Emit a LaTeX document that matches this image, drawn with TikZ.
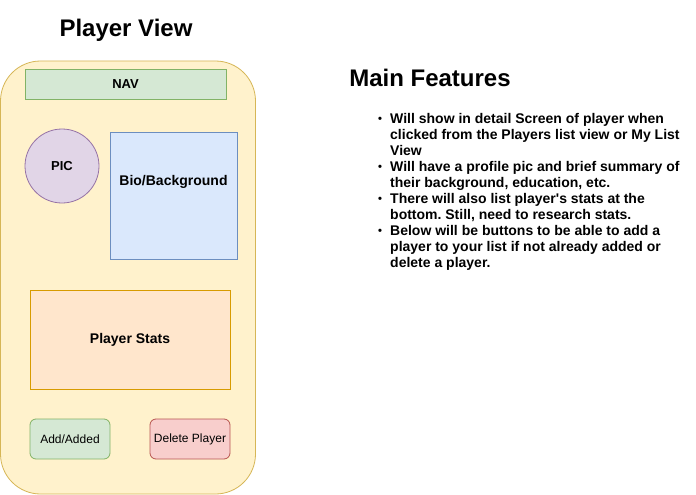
\documentclass[tikz,border=0pt]{standalone}
\usepackage{fontspec}
\setmainfont{Liberation Sans}
\usepackage{xcolor}
\usepackage{tikz}
\usetikzlibrary{shapes,positioning}

\definecolor{phonefill}{HTML}{FFF2CC}
\definecolor{phoneline}{HTML}{D6B656}
\definecolor{navfill}{HTML}{D5E8D4}
\definecolor{navline}{HTML}{82B366}
\definecolor{picfill}{HTML}{E1D5E7}
\definecolor{picline}{HTML}{9673A6}
\definecolor{biofill}{HTML}{DAE8FC}
\definecolor{bioline}{HTML}{6C8EBF}
\definecolor{statfill}{HTML}{FFE6CC}
\definecolor{statline}{HTML}{D79B00}
\definecolor{delfill}{HTML}{F8CECC}
\definecolor{delline}{HTML}{B85450}

\newcommand{\featbullet}{\makebox[13pt][l]{\hspace{1pt}\raisebox{0.5pt}{\scalebox{0.8}{\textbullet}}}}
\newcommand{\featindent}{\hspace*{13pt}}

\tikzset{
    box/.style={
        draw,
        line width=0.8pt,
        inner sep=0pt,
        font=\fontsize{14}{16}\selectfont\bfseries
        },
    btn/.style={
        draw,
        line width=0.8pt,
        rounded corners=6pt,
        minimum width=80pt,
        minimum height=40pt,
        font=\fontsize{12}{14}\selectfont
        },
    heading/.style={
        font=\fontsize{24}{28}\selectfont\bfseries
        }
}

\begin{document}
\begin{tikzpicture}[x=1pt,y=-1pt]
                \useasboundingbox[fill=white] (0,0) rectangle (696,495);

                % phone screen
                \node[heading] (title) at (126,30) {Player View};

                \node[
                    box,
                    fill=phonefill,
                    draw=phoneline,
                    rounded corners=40pt,
                    minimum width=255pt,
                    minimum height=433pt
                    ] (phone) at (128,277.5) {};

                \node[
                    box,
                    fill=navfill,
                    draw=navline,
                    minimum width=201pt,
                    minimum height=30pt,
                    font=\fontsize{13}{15}\selectfont\bfseries
                    ] (nav) at (125.5,84.5) {NAV};

                \node[
                    box,
                    circle,
                    fill=picfill,
                    draw=picline,
                    minimum size=74pt,
                    font=\fontsize{13}{15}\selectfont\bfseries
                    ] (pic) at (62,166) {PIC};

                \node[
                    box,
                    fill=biofill,
                    draw=bioline,
                    minimum width=127pt,
                    minimum height=127pt
                    ] (bio) at (173.5,195.5) {};
                \node[box, draw=none] (biotext) at ([yshift=14pt]bio.center) {Bio/Background};

                \node[
                    box,
                    fill=statfill,
                    draw=statline,
                    minimum width=200pt,
                    minimum height=99pt
                    ] (stats) at (130,340) {Player Stats};

                \node[btn, fill=navfill, draw=navline] (add) at (70,439) {Add/Added};
                \node[btn, fill=delfill, draw=delline] (delete) at (190,439) {Delete Player};

                % feature notes
                \node[heading] (features) at (430,78) {Main Features};

                \node[
                    anchor=north west,
                    inner sep=0pt,
                    align=left,
                    font=\fontsize{14}{16}\selectfont\bfseries\frenchspacing
                    ] (notes) at (377,113) {%
                    \featbullet Will show in detail Screen of player when\\
                    \featindent clicked from the Players list view or My List\\
                    \featindent View\\
                    \featbullet Will have a profile pic and brief summary of\\
                    \featindent their background, education, etc.\\
                    \featbullet There will also list player\textquotesingle s stats at the\\
                    \featindent bottom. Still, need to research stats.\\
                    \featbullet Below will be buttons to be able to add a\\
                    \featindent player to your list if not already added or\\
                    \featindent delete a player.};

            \end{tikzpicture}
\end{document}
